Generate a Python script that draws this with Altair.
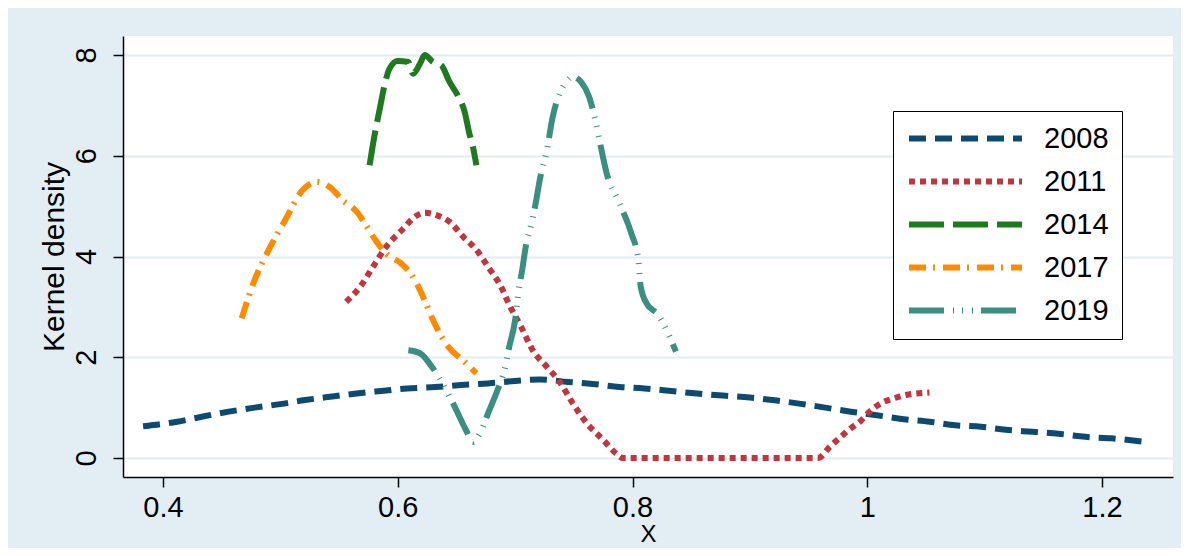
import altair as alt
import pandas as pd

years = ["2008", "2011", "2014", "2017", "2019"]
colors = ["#0c4a72", "#c3343d", "#1f7a1f", "#ff8a00", "#3a8f80"]
dashes = [[17, 9], [6, 5], [35, 9], [17, 7, 2, 8], [35, 9, 1, 8, 1, 9, 1, 8]]

x2008 = [0.383, 0.412, 0.433, 0.456, 0.478, 0.500, 0.521, 0.544, 0.565, 0.586, 0.608, 0.632,
         0.654, 0.677, 0.700, 0.721, 0.745, 0.766, 0.789, 0.810, 0.833, 0.855, 0.877, 0.900,
         0.923, 0.945, 0.986, 1.008, 1.031, 1.053, 1.075, 1.097, 1.118, 1.141, 1.163, 1.186,
         1.208, 1.237]
y2008 = [0.63, 0.72, 0.82, 0.92, 1.00, 1.07, 1.15, 1.22, 1.28, 1.33, 1.38, 1.41,
         1.45, 1.48, 1.53, 1.56, 1.51, 1.47, 1.41, 1.38, 1.33, 1.28, 1.24, 1.20,
         1.14, 1.07, 0.92, 0.85, 0.77, 0.72, 0.65, 0.62, 0.56, 0.52, 0.48, 0.42,
         0.39, 0.32]

x2011 = [0.556, 0.568, 0.579, 0.590, 0.605, 0.613, 0.623, 0.633, 0.644, 0.657, 0.666, 0.678,
         0.688, 0.695, 0.705, 0.715, 0.727, 0.738, 0.749, 0.761, 0.775, 0.786, 0.792, 0.958,
         0.968, 0.976, 0.986, 0.995, 1.002, 1.012, 1.022, 1.033, 1.053]
y2011 = [3.10, 3.40, 3.80, 4.19, 4.56, 4.76, 4.87, 4.82, 4.69, 4.36, 4.16, 3.76,
         3.40, 3.04, 2.61, 2.14, 1.81, 1.51, 1.09, 0.69, 0.36, 0.09, 0.0, 0.0,
         0.22, 0.39, 0.59, 0.75, 0.92, 1.09, 1.18, 1.25, 1.30]

x2014 = [0.576, 0.580, 0.585, 0.589, 0.593, 0.600, 0.609, 0.613, 0.619, 0.623, 0.630, 0.637,
         0.644, 0.651, 0.657, 0.661, 0.664, 0.667]
y2014 = [5.81, 6.38, 6.97, 7.43, 7.73, 7.88, 7.86, 7.63, 7.83, 8.00, 7.86, 7.80,
         7.47, 7.20, 6.87, 6.44, 6.18, 5.81]

x2017 = [0.467, 0.477, 0.490, 0.504, 0.519, 0.531, 0.542, 0.553, 0.565, 0.573, 0.580, 0.590,
         0.603, 0.612, 0.619, 0.624, 0.630, 0.644, 0.655, 0.667]
y2017 = [2.77, 3.47, 4.13, 4.72, 5.32, 5.48, 5.38, 5.12, 4.89, 4.62, 4.36, 4.06,
         3.86, 3.63, 3.33, 3.07, 2.74, 2.18, 1.95, 1.68]

x2019 = [0.609, 0.619, 0.630, 0.647, 0.658, 0.664, 0.670, 0.677, 0.685, 0.691, 0.695, 0.700,
         0.703, 0.706, 0.709, 0.714, 0.718, 0.721, 0.727, 0.732, 0.738, 0.744, 0.749, 0.756,
         0.763, 0.769, 0.773, 0.778, 0.789, 0.799, 0.805, 0.807, 0.812, 0.822, 0.829, 0.837]
y2019 = [2.14, 2.08, 1.78, 1.09, 0.56, 0.32, 0.49, 0.89, 1.35, 1.75, 2.21, 2.74,
         3.33, 3.73, 4.19, 4.66, 5.12, 5.52, 6.11, 6.77, 7.24, 7.47, 7.57, 7.47,
         7.17, 6.64, 6.18, 5.65, 5.05, 4.46, 3.93, 3.40, 3.07, 2.84, 2.54, 2.11]

x_ticks = [0.4, 0.6, 0.8, 1.0, 1.2]
y_ticks = [0, 2, 4, 6, 8]

series = {"2008": (x2008, y2008), "2011": (x2011, y2011), "2014": (x2014, y2014),
          "2017": (x2017, y2017), "2019": (x2019, y2019)}
rows = []
for yr, (xs, ys) in series.items():
    for a, b in zip(xs, ys):
        rows.append({"year": yr, "x": a, "y": b})
df = pd.DataFrame(rows)

FONT = "Liberation Sans"

legend_props = dict(
    title=None, orient="none", legendX=770, legendY=75,
    fillColor="white", strokeColor="black", padding=13,
    symbolType="stroke", symbolSize=12769, symbolStrokeWidth=6,
    labelFont=FONT, labelFontSize=29, labelColor="black", labelOffset=19,
    rowPadding=13, clipHeight=29,
)

chart = alt.Chart(df).mark_line(interpolate="monotone", strokeWidth=6, strokeCap="butt").encode(
    x=alt.X("x:Q",
            scale=alt.Scale(domain=[0.3659, 1.2605], nice=False, zero=False),
            axis=alt.Axis(values=x_ticks, format="~g", title="X", grid=False,
                          labelFont=FONT, labelFontSize=29, labelColor="black",
                          titleFont=FONT, titleFontSize=24, titleFontWeight="normal",
                          titleColor="black", titleBaseline="alphabetic", titleY=64,
                          tickSize=10, tickWidth=1.5, tickColor="black",
                          domainColor="black", domainWidth=1.5, labelPadding=6)),
    y=alt.Y("y:Q",
            scale=alt.Scale(domain=[-0.377, 8.377], nice=False, zero=False),
            axis=alt.Axis(values=y_ticks, title="Kernel density", grid=True,
                          gridColor="#e2edf2", gridWidth=2,
                          labelAngle=270, labelAlign="center", labelBaseline="bottom",
                          labelFont=FONT, labelFontSize=29, labelColor="black",
                          titleFont=FONT, titleFontSize=30, titleFontWeight="normal",
                          titleColor="black", tickSize=10, tickWidth=1.5, tickColor="black",
                          domainColor="black", domainWidth=1.5, labelPadding=12,
                          titlePadding=3)),
    color=alt.Color("year:N", scale=alt.Scale(domain=years, range=colors),
                    legend=alt.Legend(**legend_props)),
    strokeDash=alt.StrokeDash("year:N", scale=alt.Scale(domain=years, range=dashes),
                              legend=alt.Legend(**legend_props)),
).properties(
    width=1050, height=441,
    autosize=alt.AutoSizeParams(type="none"),
    padding={"left": 115, "top": 28, "right": 8, "bottom": 71},
    background="#e3eef4",
).configure_view(fill="white", stroke=None)

chart.save("out.html", embed_options={"renderer": "svg", "actions": False})
